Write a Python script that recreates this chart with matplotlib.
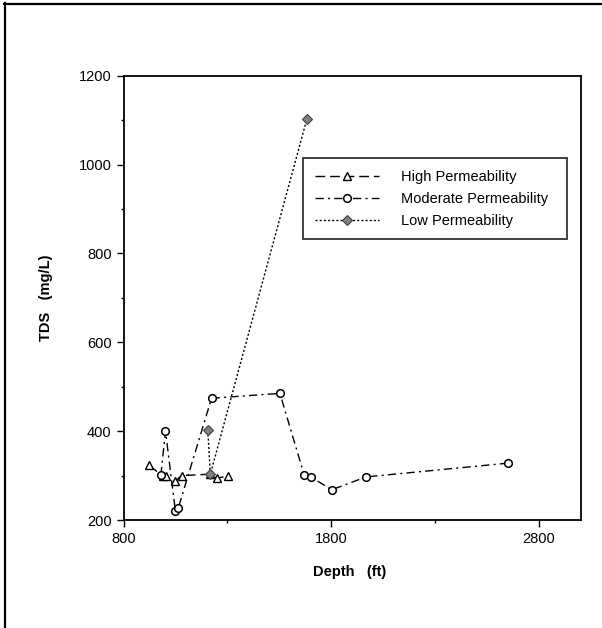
import matplotlib
matplotlib.use("Agg")
import matplotlib.pyplot as plt
from matplotlib.lines import Line2D

# ---- data ----
high_depth = [925, 990, 1005, 1048, 1080, 1215, 1248, 1304]
high_tds = [323, 298, 298, 287, 300, 303, 294, 299]

mod_depth = [980, 1002, 1050, 1063, 1224, 1553, 1670, 1702, 1802, 1968, 2652]
mod_tds = [301, 400, 220, 226, 474, 485, 301, 297, 268, 297, 328]

low_depth = [1206, 1218, 1683]
low_tds = [402, 303, 1103]

series_labels = ["High Permeability", "Moderate Permeability", "Low Permeability"]
x_major = [800, 1800, 2800]
x_minor = [1300, 2300]
y_major = [200, 400, 600, 800, 1000, 1200]
y_minor = [300, 500, 700, 900, 1100]

plt.rcParams['font.family'] = ['Liberation Sans', 'DejaVu Sans']

W, H = 602, 628
fig = plt.figure(figsize=(W / 100, H / 100), dpi=100)
fig.patch.set_facecolor('white')

left, right, top, bottom = 123.5, 580.5, 75.7, 520.0
ax = fig.add_axes([left / W, 1 - bottom / H, (right - left) / W, (bottom - top) / H])

lw = 1.0
ax.plot(high_depth, high_tds, color='black', lw=lw, dashes=(7, 3.5),
        marker='^', ms=5.5, mfc='white', mec='black', mew=1.0,
        label=series_labels[0], zorder=3)
ax.plot(mod_depth, mod_tds, color='black', lw=lw, dashes=(6, 3, 1.5, 3),
        marker='o', ms=5.5, mfc='white', mec='black', mew=1.1,
        label=series_labels[1], zorder=3)
ax.plot(low_depth, low_tds, color='black', lw=lw, dashes=(1.5, 1.5),
        marker='D', ms=4.8, mfc='#808080', mec='#404040', mew=0.8,
        label=series_labels[2], zorder=4)

ax.set_xlim(800, 3000)
ax.set_ylim(200, 1200)
ax.set_xticks(x_major)
ax.set_xticks(x_minor, minor=True)
ax.set_yticks(y_major)
ax.set_yticks(y_minor, minor=True)
ax.tick_params(which='major', direction='out', length=5, width=1.0,
               labelsize=10.5, pad=3.5, colors='black')
ax.tick_params(which='minor', direction='out', length=2.5, width=1.0)
ax.tick_params(top=False, right=False)

for sp in ax.spines.values():
    sp.set_linewidth(1.3)
    sp.set_color('black')

ax.set_xlabel("Depth   (ft)", fontsize=10.5, fontweight='bold', va='center', ha='center')
ax.xaxis.set_label_coords(0.495, (bottom - 572) / (bottom - top))
ax.set_ylabel("TDS   (mg/L)", fontsize=10.5, fontweight='bold', va='center', ha='center')
ax.yaxis.set_label_coords((46 - left) / (right - left), 0.5)

lx0 = (303 - left) / (right - left)
lx1 = (567 - left) / (right - left)
ly1 = (bottom - 158) / (bottom - top)
ly0 = (bottom - 239) / (bottom - top)
leg = ax.legend(loc='upper left', mode='expand',
                bbox_to_anchor=(lx0, ly0, lx1 - lx0, ly1 - ly0),
                borderaxespad=0, frameon=True, fancybox=False, shadow=False,
                fontsize=10.5, numpoints=1, handlelength=4.4, handletextpad=1.5,
                labelspacing=0.55, borderpad=0.8)
leg.get_frame().set_edgecolor('black')
leg.get_frame().set_linewidth(1.3)

# page border lines (left and top)
fig.add_artist(Line2D([4.7 / W, 4.7 / W], [0, 1 - 3 / H], transform=fig.transFigure,
                      color='black', lw=1.6))
fig.add_artist(Line2D([4 / W, 1], [1 - 4 / H, 1 - 4 / H], transform=fig.transFigure,
                      color='black', lw=1.6))

fig.savefig("out.png", dpi=100)
